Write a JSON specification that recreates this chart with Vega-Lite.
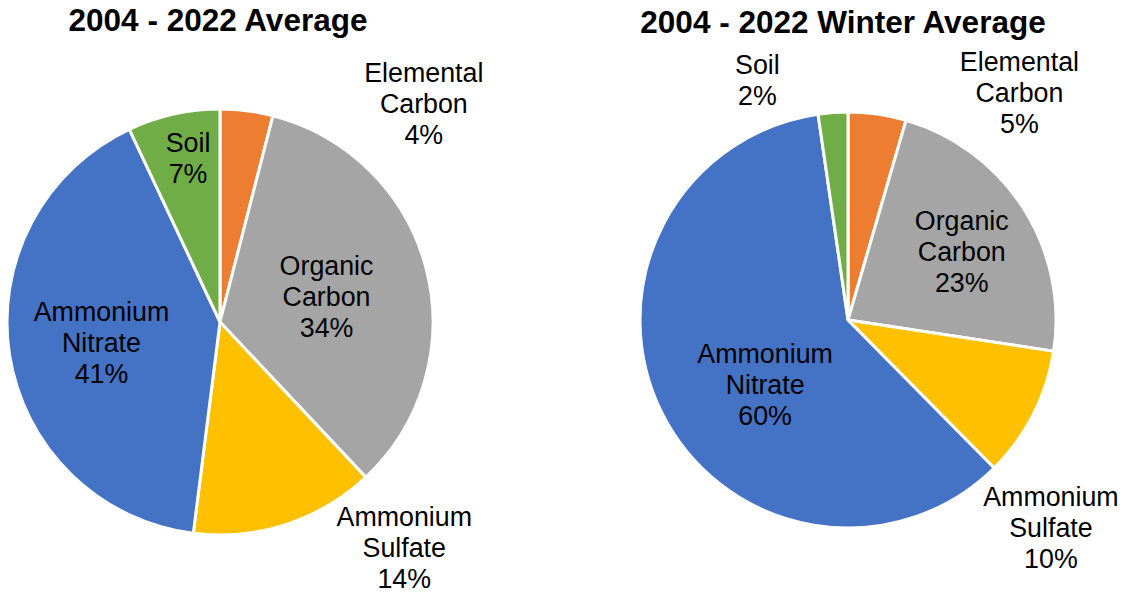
{
  "$schema": "https://vega.github.io/schema/vega-lite/v6.json",
  "padding": {"top": 5, "left": 0, "right": 0, "bottom": 0},
  "background": "white",
  "spacing": 200,
  "bounds": "flush",
  "config": {
    "view": {"stroke": null},
    "title": {"font": "Liberation Sans", "fontSize": 31.5, "fontWeight": "bold", "color": "black"}
  },
  "datasets": {
    "avg": [
      {"idx": 1, "name": "Elemental Carbon", "label": "Elemental\nCarbon\n4%", "value": 4},
      {"idx": 2, "name": "Organic Carbon", "label": "Organic\nCarbon\n34%", "value": 34},
      {"idx": 3, "name": "Ammonium Sulfate", "label": "Ammonium\nSulfate\n14%", "value": 14},
      {"idx": 4, "name": "Ammonium Nitrate", "label": "Ammonium\nNitrate\n41%", "value": 41},
      {"idx": 5, "name": "Soil", "label": "Soil\n7%", "value": 7}
    ],
    "winter": [
      {"idx": 1, "name": "Elemental Carbon", "label": "Elemental\nCarbon\n5%", "value": 4.5},
      {"idx": 2, "name": "Organic Carbon", "label": "Organic\nCarbon\n23%", "value": 22.9},
      {"idx": 3, "name": "Ammonium Sulfate", "label": "Ammonium\nSulfate\n10%", "value": 10.2},
      {"idx": 4, "name": "Ammonium Nitrate", "label": "Ammonium\nNitrate\n60%", "value": 60.1},
      {"idx": 5, "name": "Soil", "label": "Soil\n2%", "value": 2.3}
    ]
  },
  "hconcat": [
    {
      "title": {"text": "2004 - 2022 Average", "dx": -2, "offset": 23.5},
      "width": 440,
      "height": 480,
      "data": {"name": "avg"},
      "encoding": {
        "theta": {"field": "value", "type": "quantitative", "stack": true},
        "order": {"field": "idx", "type": "quantitative"}
      },
      "layer": [
        {
          "mark": {"type": "arc", "outerRadius": 213, "stroke": "white", "strokeWidth": 3},
          "encoding": {
            "color": {
              "field": "name", "type": "nominal", "legend": null,
              "scale": {
                "domain": ["Elemental Carbon", "Organic Carbon", "Ammonium Sulfate", "Ammonium Nitrate", "Soil"],
                "range": ["#ED7D31", "#A5A5A5", "#FFC000", "#4472C4", "#70AD47"]
              }
            }
          }
        },
        {
          "mark": {
            "type": "text", "font": "Liberation Sans", "fontSize": 26.8, "color": "black",
            "lineBreak": "\n", "lineHeight": 31, "align": "center", "baseline": "middle",
            "radius": {"expr": "datum.name == 'Soil' ? 165 : datum.name == 'Organic Carbon' ? 110 : datum.name == 'Ammonium Nitrate' ? 120 : datum.name == 'Ammonium Sulfate' ? 250 : 230"},
            "dx": {"expr": "datum.name == 'Elemental Carbon' ? 175 : datum.name == 'Ammonium Sulfate' ? 107 : datum.name == 'Soil' ? 4 : 0"},
            "dy": {"expr": "datum.name == 'Elemental Carbon' ? -20 : datum.name == 'Ammonium Sulfate' ? -42 : datum.name == 'Soil' ? -16.5 : -28"}
          },
          "encoding": {"text": {"field": "label"}}
        }
      ]
    },
    {
      "title": {"text": "2004 - 2022 Winter Average", "dx": -5, "offset": 10.5},
      "width": 416,
      "height": 476,
      "data": {"name": "winter"},
      "encoding": {
        "theta": {"field": "value", "type": "quantitative", "stack": true},
        "order": {"field": "idx", "type": "quantitative"}
      },
      "layer": [
        {
          "mark": {"type": "arc", "outerRadius": 208, "stroke": "white", "strokeWidth": 3},
          "encoding": {
            "color": {
              "field": "name", "type": "nominal", "legend": null,
              "scale": {
                "domain": ["Elemental Carbon", "Organic Carbon", "Ammonium Sulfate", "Ammonium Nitrate", "Soil"],
                "range": ["#ED7D31", "#A5A5A5", "#FFC000", "#4472C4", "#70AD47"]
              }
            }
          }
        },
        {
          "mark": {
            "type": "text", "font": "Liberation Sans", "fontSize": 26.8, "color": "black",
            "lineBreak": "\n", "lineHeight": 31, "align": "center", "baseline": "middle",
            "radius": {"expr": "datum.name == 'Organic Carbon' ? 135 : datum.name == 'Ammonium Nitrate' ? 106 : 230"},
            "dx": {"expr": "datum.name == 'Elemental Carbon' ? 139 : datum.name == 'Ammonium Sulfate' ? -2 : datum.name == 'Ammonium Nitrate' ? 12 : datum.name == 'Soil' ? -74 : 0"},
            "dy": {"expr": "datum.name == 'Elemental Carbon' ? -29 : datum.name == 'Ammonium Sulfate' ? 74 : datum.name == 'Ammonium Nitrate' ? -12 : datum.name == 'Soil' ? -24.5 : -25"}
          },
          "encoding": {"text": {"field": "label"}}
        }
      ]
    }
  ]
}
